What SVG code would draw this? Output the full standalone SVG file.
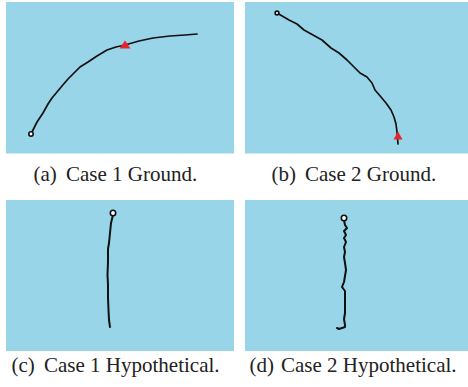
<svg xmlns="http://www.w3.org/2000/svg" width="468" height="387" viewBox="0 0 468 387">
<style>
.bg{fill:#98d5e8}
.trk{fill:none;stroke:#111;stroke-width:1.7;stroke-linecap:round;stroke-linejoin:round}
.thick{stroke-width:2}
.start{fill:#fff;stroke:#111;stroke-width:1.6}
.tri{fill:#e8242b}
.cap{font-family:"Liberation Serif","Times New Roman",serif;font-size:21px;fill:#222}
</style>
<rect width="468" height="387" fill="#fff"/>
<g id="panel-a">
<rect class="bg" x="6" y="2" width="228" height="151.5"/>
<path class="trk" d="M31,134 L37,122 L43,113 L48,104 L52,98 L57,92 L62,86 L68,79 L73,74 L80,67 L88,62 L97,56 L107,50 L116,47 L125,45 L139,41 L153,38 L170,36 L185,35 L197,34"/>
<circle class="start" cx="31" cy="134" r="2.2"/>
<polygon class="tri" points="125,40.5 130.5,48.5 119.5,48.5"/>
</g>
<g id="panel-b">
<rect class="bg" x="245" y="2" width="223" height="151.5"/>
<path class="trk" d="M277,13 L289,20 L297,24 L304,30 L313,35 L322,40 L331,48 L339,53 L347,60 L354,67 L360,73 L367,77 L372,83 L375,90 L381,97 L386,103 L391,110 L394,117 L396,124 L397,132 L398,144"/>
<circle class="start" cx="277" cy="13" r="1.9"/>
<polygon class="tri" points="398,131.5 402.5,139.5 393.5,139.5"/>
</g>
<g id="panel-c">
<rect class="bg" x="6" y="200" width="228" height="151"/>
<path class="trk thick" d="M113,215 L111,223 L110,233 L109,243 L108,249 L108,262 L107.5,275 L108,285 L108,298 L108.5,310 L109,320 L110,327"/>
<circle class="start" cx="113" cy="213" r="2.7" stroke-width="2"/>
</g>
<g id="panel-d">
<rect class="bg" x="245" y="200" width="223" height="151"/>
<path class="trk thick" d="M344,220 L345,225 L347,228 L344,231 L346,235 L344,238 L346,242 L344,247 L345,252 L344,257 L345,263 L346,270 L345,276 L344,282 L342,287 L345,291 L345,298 L345,306 L345,313 L344,319 L345,325 L345,327 L339,329 L337,328"/>
<circle class="start" cx="344" cy="218" r="2.7" stroke-width="2"/>
</g>
<g id="captions">
<text class="cap" x="33.5" y="181">(a)</text>
<text class="cap" x="66" y="181">Case 1 Ground.</text>
<text class="cap" x="271.5" y="181">(b)</text>
<text class="cap" x="305" y="181">Case 2 Ground.</text>
<text class="cap" x="11.5" y="372">(c)</text>
<text class="cap" x="44" y="372">Case 1 Hypothetical.</text>
<text class="cap" x="249.5" y="372">(d)</text>
<text class="cap" x="281" y="372">Case 2 Hypothetical.</text>
</g>
</svg>
